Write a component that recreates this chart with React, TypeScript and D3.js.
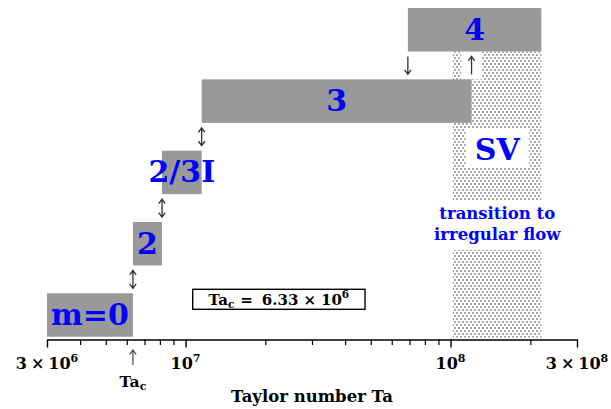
import React, { useEffect, useRef } from 'react';
import * as d3 from 'd3';

// flow regimes (azimuthal mode) and their Taylor number ranges
const modes = ['m=0', '2', '2/3I', '3', '4'];
const modeStart = [3.0e6, 6.33e6, 8.15e6, 1.15e7, 6.9e7];
const modeEnd = [6.33e6, 8.15e6, 1.15e7, 1.2e8, 2.2e8];

// transition arrows between the regimes
const arrowTa = [6.33e6, 8.15e6, 1.15e7, 6.9e7, 1.2e8];
const arrowLevel = [0.5, 1.5, 2.5, 3.5, 3.5];
const arrowDir = ['both', 'both', 'both', 'down', 'up'];

// shaded "SV" zone
const svRange = [1.02e8, 2.2e8];
const svCenter = 1.5e8;

const taC = 6.33e6;

const majorTicks = [3e6, 1e7, 1e8, 3e8];
const majorMant = ['3', '', '', '3'];
const majorExp = ['6', '7', '8', '8'];
const minorTicks = [4e6, 5e6, 6e6, 7e6, 8e6, 9e6, 2e7, 3e7, 4e7, 5e7, 6e7, 7e7, 8e7, 9e7, 2e8];

const FONT = '"DejaVu Serif", serif';
const BLUE = '#0000ff';

const App: React.FC = () => {
    const ref = useRef<SVGSVGElement | null>(null);

    useEffect(() => {
        if (!ref.current) return;
        const width = 611;
        const height = 409;
        const axisY = 339.5;
        const barH = 43.5;

        d3.select(ref.current).selectAll('*').remove();
        const svg = d3.select(ref.current)
            .attr('width', width)
            .attr('height', height)
            .style('font-family', FONT);

        const x = d3.scaleLog().domain([3e6, 3e8]).range([47, 577]);
        const y = d3.scaleLinear().domain([0, 4]).range([315, 29.8]);

        // stipple pattern (staggered dots)
        const pat = svg.append('defs').append('pattern')
            .attr('id', 'stip')
            .attr('patternUnits', 'userSpaceOnUse')
            .attr('width', 4)
            .attr('height', 6);
        pat.append('rect').attr('x', 0).attr('y', 0).attr('width', 2).attr('height', 2).attr('fill', '#a8a8a8');
        pat.append('rect').attr('x', 2).attr('y', 3).attr('width', 2).attr('height', 2).attr('fill', '#a8a8a8');

        const sx0 = x(svRange[0]);
        const sx1 = x(svRange[1]);
        const sTop = y(4) + barH / 2;
        svg.append('rect')
            .attr('x', sx0)
            .attr('y', sTop)
            .attr('width', sx1 - sx0)
            .attr('height', axisY - 2 - sTop)
            .attr('fill', 'url(#stip)');

        // white cut-outs behind labels
        const sc = x(svCenter);
        svg.append('rect').attr('x', sc - 31.5).attr('y', 128).attr('width', 63).attr('height', 39).attr('fill', '#fff');
        svg.append('rect').attr('x', sx0 - 2).attr('y', 200).attr('width', sx1 - sx0 + 4).attr('height', 50).attr('fill', '#fff');
        const upX = x(arrowTa[4]);
        svg.append('rect').attr('x', upX - 10.5).attr('y', sTop).attr('width', 21)
            .attr('height', y(3) - barH / 2 - sTop).attr('fill', '#fff');

        // regime bars
        svg.selectAll('rect.bar')
            .data(modes)
            .enter()
            .append('rect')
            .attr('class', 'bar')
            .attr('x', (_, i) => x(modeStart[i]))
            .attr('y', (_, i) => y(i) - barH / 2)
            .attr('width', (_, i) => x(modeEnd[i]) - x(modeStart[i]))
            .attr('height', barH)
            .attr('fill', '#999999');

        svg.selectAll('text.mode')
            .data(modes)
            .enter()
            .append('text')
            .attr('class', 'mode')
            .attr('x', (_, i) => (x(modeStart[i]) + x(modeEnd[i])) / 2)
            .attr('y', (_, i) => y(i) + 10)
            .attr('text-anchor', 'middle')
            .style('font-size', '30px')
            .style('font-weight', 'bold')
            .style('fill', BLUE)
            .text(d => d);

        // SV zone labels
        svg.append('text')
            .attr('x', sc).attr('y', 160)
            .attr('text-anchor', 'middle')
            .style('font-size', '30px').style('font-weight', 'bold').style('fill', BLUE)
            .text('SV');
        svg.append('text')
            .attr('x', sc).attr('y', 218.5)
            .attr('text-anchor', 'middle')
            .style('font-size', '16.5px').style('font-weight', 'bold').style('fill', BLUE)
            .text('transition to');
        svg.append('text')
            .attr('x', sc).attr('y', 240)
            .attr('text-anchor', 'middle')
            .style('font-size', '16.5px').style('font-weight', 'bold').style('fill', BLUE)
            .text('irregular flow');

        // transition arrows
        const arrowPath = (cx: number, cy: number, dir: string, h = 9) => {
            let p = `M${cx},${cy - h}L${cx},${cy + h}`;
            if (dir !== 'down') p += `M${cx - 3.2},${cy - h + 4.5}L${cx},${cy - h}L${cx + 3.2},${cy - h + 4.5}`;
            if (dir !== 'up') p += `M${cx - 3.2},${cy + h - 4.5}L${cx},${cy + h}L${cx + 3.2},${cy + h - 4.5}`;
            return p;
        };
        svg.selectAll('path.arrow')
            .data(arrowTa)
            .enter()
            .append('path')
            .attr('class', 'arrow')
            .attr('d', (d, i) => arrowPath(x(d), y(arrowLevel[i]), arrowDir[i]))
            .attr('fill', 'none')
            .attr('stroke', '#333')
            .attr('stroke-width', 1.3);

        // axis
        const major = svg.append('g')
            .attr('transform', `translate(0,${axisY})`)
            .call(d3.axisBottom(x).tickValues(majorTicks).tickSizeInner(8).tickSizeOuter(0).tickFormat(() => ''));
        major.select('.domain').attr('stroke', '#000').attr('stroke-width', 1.6);
        major.selectAll('.tick line').attr('stroke', '#000').attr('stroke-width', 1.4);
        const minor = svg.append('g')
            .attr('transform', `translate(0,${axisY})`)
            .call(d3.axisBottom(x).tickValues(minorTicks).tickSizeInner(5.5).tickSizeOuter(0).tickFormat(() => ''));
        minor.select('.domain').remove();
        minor.selectAll('.tick line').attr('stroke', '#000').attr('stroke-width', 1.2);

        const lbl = svg.selectAll('text.tl')
            .data(majorTicks)
            .enter()
            .append('text')
            .attr('class', 'tl')
            .attr('x', d => x(d))
            .attr('y', 368.5)
            .attr('text-anchor', 'middle')
            .style('font-size', '16px')
            .style('font-weight', 'bold');
        lbl.each(function (_, i) {
            const t = d3.select(this);
            if (majorMant[i]) {
                t.append('tspan').text(majorMant[i]);
                t.append('tspan').attr('dx', 4).text('×');
                t.append('tspan').attr('dx', 4).text('10');
            } else {
                t.append('tspan').text('10');
            }
            t.append('tspan').attr('dy', -7).style('font-size', '11px').text(majorExp[i]);
        });

        // Ta_c marker
        svg.append('path')
            .attr('d', arrowPath(x(taC), 357.5, 'up', 7.5))
            .attr('fill', 'none')
            .attr('stroke', '#444')
            .attr('stroke-width', 1.2);
        const tc = svg.append('text')
            .attr('x', x(taC)).attr('y', 386.5)
            .attr('text-anchor', 'middle')
            .style('font-size', '15.5px').style('font-weight', 'bold');
        tc.append('tspan').text('Ta');
        tc.append('tspan').attr('dy', 3).style('font-size', '11px').text('c');

        svg.append('text')
            .attr('x', 312).attr('y', 401.5)
            .attr('text-anchor', 'middle')
            .style('font-size', '16.5px').style('font-weight', 'bold')
            .text('Taylor number Ta');

        // Ta_c box
        svg.append('rect')
            .attr('x', 192.7).attr('y', 289.3).attr('width', 172.3).attr('height', 20)
            .attr('fill', '#fff').attr('stroke', '#000').attr('stroke-width', 1.4);
        const bt = svg.append('text')
            .attr('x', 278.8).attr('y', 304.5)
            .attr('text-anchor', 'middle')
            .style('font-size', '15px').style('font-weight', 'bold');
        bt.append('tspan').text('Ta');
        bt.append('tspan').attr('dy', 3).style('font-size', '10.5px').text('c');
        bt.append('tspan').attr('dy', -3).attr('dx', 6).text('=');
        bt.append('tspan').attr('dx', 9).text(d3.format('.2f')(taC / 1e6));
        bt.append('tspan').attr('dx', 5).text('×');
        bt.append('tspan').attr('dx', 5).text('10');
        bt.append('tspan').attr('dy', -6.5).style('font-size', '10.5px').text('6');
    }, []);

    return <svg ref={ref} style={{ position: 'absolute', left: 0, top: 0 }} />;
};

export default App;
